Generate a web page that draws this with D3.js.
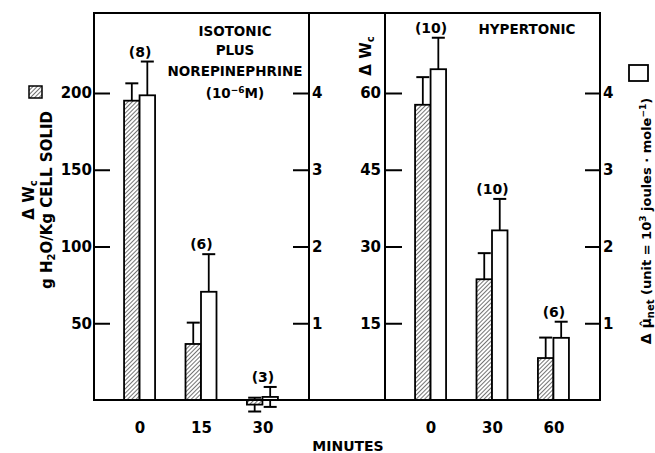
<!DOCTYPE html>
<html lang="en">
<head>
<meta charset="utf-8">
<script src="https://d3js.org/d3.v7.min.js"></script>
<style>
  body { margin: 0; background: #fff; }
  text { font-family: "DejaVu Sans", sans-serif; font-weight: bold; fill: #000; }
</style>
</head>
<body>
<div id="chart"></div>
<script>
// minutes for each panel
var isoMinutes = ["0", "15", "30"];
var hypMinutes = ["0", "30", "60"];

// isotonic plus norepinephrine: delta Wc (g H2O / kg cell solid) and delta mu (10^3 J/mole)
var isoW = [195, 36.5, -3];
var isoWErr = [11.3, 13.9, 4.5];
var isoMu = [3.97, 1.41, 0.04];
var isoMuErr = [0.44, 0.49, 0.13];
var isoBothWays = [false, false, true];
var isoN = ["(8)", "(6)", "(3)"];

// hypertonic
var hypW = [57.7, 23.6, 8.2];
var hypWErr = [5.4, 5.1, 4.0];
var hypMu = [4.31, 2.21, 0.81];
var hypMuErr = [0.41, 0.41, 0.21];
var hypBothWays = [false, false, false];
var hypN = ["(10)", "(10)", "(6)"];

// tick labels
var isoWTicks = [50, 100, 150, 200];
var hypWTicks = [15, 30, 45, 60];
var muTicks = [1, 2, 3, 4];

var width = 655, height = 453;
var frameTop = 13, base = 400, yMax = 93;
var leftX = 94, midX = 309, hypX0 = 385, rightX = 600;

var svg = d3.select("#chart").append("svg")
    .attr("width", width)
    .attr("height", height);

// hatch pattern
var pat = svg.append("defs").append("pattern")
    .attr("id", "hatch")
    .attr("patternUnits", "userSpaceOnUse")
    .attr("width", 3)
    .attr("height", 3)
    .attr("patternTransform", "rotate(45)");
pat.append("rect").attr("width", 3).attr("height", 3).attr("fill", "#fff");
pat.append("line")
    .attr("x1", 0).attr("y1", 0).attr("x2", 0).attr("y2", 3)
    .attr("stroke", "#000").attr("stroke-width", 1.1);

// scales
var isoWY = d3.scaleLinear().domain([0, 200]).range([base, yMax]);
var hypWY = d3.scaleLinear().domain([0, 60]).range([base, yMax]);
var muY = d3.scaleLinear().domain([0, 4]).range([base, yMax]);

var isoXs = d3.scalePoint().domain(isoMinutes).range([leftX, midX]).padding(0.75);
var hypXs = d3.scalePoint().domain(hypMinutes).range([hypX0, rightX]).padding(0.75);
var sub = d3.scaleBand().domain(["w", "mu"]).range([-16, 15]);

function drawPanel(xs, minutes, wY, w, wErr, mu, muErr, both, counts) {
  var g = svg.append("g");
  var rows = minutes.map(function(m, i) {
    return [
      { m: m, key: "w", v: w[i], e: wErr[i], y: wY, both: both[i] },
      { m: m, key: "mu", v: mu[i], e: muErr[i], y: muY, both: both[i] }
    ];
  });
  var bars = [].concat.apply([], rows);

  // error bars
  bars.forEach(function(d) {
    var cx = xs(d.m) + sub(d.key) + sub.bandwidth() / 2;
    var hi = d.y(d.v + d.e);
    var lo = d.both ? d.y(d.v - d.e) : d.y(d.v);
    g.append("line")
      .attr("x1", cx).attr("x2", cx).attr("y1", hi).attr("y2", lo)
      .attr("stroke", "#000").attr("stroke-width", 1.8);
    g.append("line")
      .attr("x1", cx - 6.5).attr("x2", cx + 6.5).attr("y1", hi).attr("y2", hi)
      .attr("stroke", "#000").attr("stroke-width", 2);
    if (d.both) {
      g.append("line")
        .attr("x1", cx - 6.5).attr("x2", cx + 6.5).attr("y1", lo).attr("y2", lo)
        .attr("stroke", "#000").attr("stroke-width", 2);
    }
  });

  // bars
  g.selectAll("rect.bar")
    .data(bars)
    .enter()
    .append("rect")
    .attr("class", "bar")
    .attr("x", function(d) { return xs(d.m) + sub(d.key); })
    .attr("width", sub.bandwidth())
    .attr("y", function(d) { return Math.min(d.y(d.v), d.y(0)); })
    .attr("height", function(d) { return Math.abs(d.y(d.v) - d.y(0)); })
    .attr("fill", function(d) { return d.key == "w" ? "url(#hatch)" : "#fff"; })
    .attr("stroke", "#000")
    .attr("stroke-width", 1.8);

  // n counts above the taller error bar
  rows.forEach(function(r, i) {
    var capTop = Math.min(r[0].y(r[0].v + r[0].e), r[1].y(r[1].v + r[1].e));
    g.append("text")
      .attr("x", xs(r[0].m))
      .attr("y", capTop - 5)
      .attr("text-anchor", "middle")
      .style("font-size", "14px")
      .text(counts[i]);
  });

  // minutes labels
  minutes.forEach(function(m) {
    g.append("text")
      .attr("x", xs(m))
      .attr("y", 433)
      .attr("text-anchor", "middle")
      .style("font-size", "15px")
      .text(m);
  });
}

drawPanel(isoXs, isoMinutes, isoWY, isoW, isoWErr, isoMu, isoMuErr, isoBothWays, isoN);
drawPanel(hypXs, hypMinutes, hypWY, hypW, hypWErr, hypMu, hypMuErr, hypBothWays, hypN);

// frame
svg.append("rect")
    .attr("x", leftX).attr("y", frameTop)
    .attr("width", rightX - leftX).attr("height", base - frameTop)
    .attr("fill", "none").attr("stroke", "#000").attr("stroke-width", 2);
[midX, hypX0].forEach(function(x) {
  svg.append("line")
    .attr("x1", x).attr("x2", x).attr("y1", frameTop).attr("y2", base)
    .attr("stroke", "#000").attr("stroke-width", 2);
});

// axes
function styleAxis(g) {
  g.select(".domain").remove();
  g.selectAll(".tick line").attr("stroke", "#000").attr("stroke-width", 2);
  g.selectAll(".tick text")
    .attr("font-family", null).attr("font-size", null)
    .style("font-size", "15px");
}
var fmt = d3.format("d");

svg.append("g")
    .attr("transform", "translate(" + leftX + ",0)")
    .call(d3.axisLeft(isoWY).tickValues(isoWTicks).tickFormat(fmt).tickSizeInner(-16).tickSizeOuter(0).tickPadding(2))
    .call(styleAxis);

svg.append("g")
    .attr("transform", "translate(" + midX + ",0)")
    .call(d3.axisRight(muY).tickValues(muTicks).tickFormat(fmt).tickSizeInner(-16).tickSizeOuter(0).tickPadding(3))
    .call(styleAxis);

svg.append("g")
    .attr("transform", "translate(" + hypX0 + ",0)")
    .call(d3.axisLeft(hypWY).tickValues(hypWTicks).tickFormat(fmt).tickSizeInner(-17).tickSizeOuter(0).tickPadding(4))
    .call(styleAxis);

svg.append("g")
    .attr("transform", "translate(" + rightX + ",0)")
    .call(d3.axisRight(muY).tickValues(muTicks).tickFormat(fmt).tickSizeInner(-15).tickSizeOuter(0).tickPadding(3))
    .call(styleAxis);

// panel titles
var isoTitle = ["ISOTONIC", "PLUS", "NOREPINEPHRINE"];
var isoTitleY = [36, 55, 76];
isoTitle.forEach(function(t, i) {
  svg.append("text")
    .attr("x", 235).attr("y", isoTitleY[i])
    .attr("text-anchor", "middle")
    .style("font-size", "13.5px")
    .text(t);
});
var conc = svg.append("text")
    .attr("x", 235).attr("y", 98)
    .attr("text-anchor", "middle")
    .style("font-size", "13.5px");
conc.append("tspan").text("(10");
conc.append("tspan").attr("dy", -5).style("font-size", "9px").text("\u2212" + "6");
conc.append("tspan").attr("dy", 5).text("M)");

svg.append("text")
    .attr("x", 527).attr("y", 34)
    .attr("text-anchor", "middle")
    .style("font-size", "13.5px")
    .text("HYPERTONIC");

svg.append("text")
    .attr("x", 348).attr("y", 451)
    .attr("text-anchor", "middle")
    .style("font-size", "14px")
    .text("MINUTES");

// left axis labels
function deltaW(x, y) {
  var t = svg.append("text")
    .attr("transform", "translate(" + x + "," + y + ") rotate(-90)")
    .attr("text-anchor", "middle")
    .style("font-size", "15px");
  t.append("tspan").text("\u0394 W");
  t.append("tspan").attr("dy", 3).style("font-size", "10px").text("c");
}
deltaW(34, 200);
deltaW(371, 56);

var unitL = svg.append("text")
    .attr("transform", "translate(52,200) rotate(-90)")
    .attr("text-anchor", "middle")
    .style("font-size", "15px");
unitL.append("tspan").text("g H");
unitL.append("tspan").attr("dy", 3).style("font-size", "10px").text("2");
unitL.append("tspan").attr("dy", -3).text("O/Kg CELL SOLID");

// legend boxes
svg.append("rect")
    .attr("x", 29).attr("y", 86).attr("width", 13).attr("height", 12)
    .attr("fill", "url(#hatch)").attr("stroke", "#000").attr("stroke-width", 1.5);
svg.append("rect")
    .attr("x", 629).attr("y", 65).attr("width", 19).attr("height", 16)
    .attr("fill", "#fff").attr("stroke", "#000").attr("stroke-width", 1.8);

// right axis label
var unitR = svg.append("text")
    .attr("transform", "translate(651,221) rotate(-90)")
    .attr("text-anchor", "middle")
    .style("font-size", "14px");
unitR.append("tspan").text("\u0394 \u03BC\u0302");
unitR.append("tspan").attr("dy", 3).style("font-size", "10px").text("net");
unitR.append("tspan").attr("dy", -3).style("font-size", "13px").text(" (unit = 10");
unitR.append("tspan").attr("dy", -5).style("font-size", "9px").text("3");
unitR.append("tspan").attr("dy", 5).style("font-size", "13px").text(" joules \u00B7 mole");
unitR.append("tspan").attr("dy", -5).style("font-size", "9px").text("\u22121");
unitR.append("tspan").attr("dy", 5).style("font-size", "13px").text(")");
</script>
</body>
</html>
